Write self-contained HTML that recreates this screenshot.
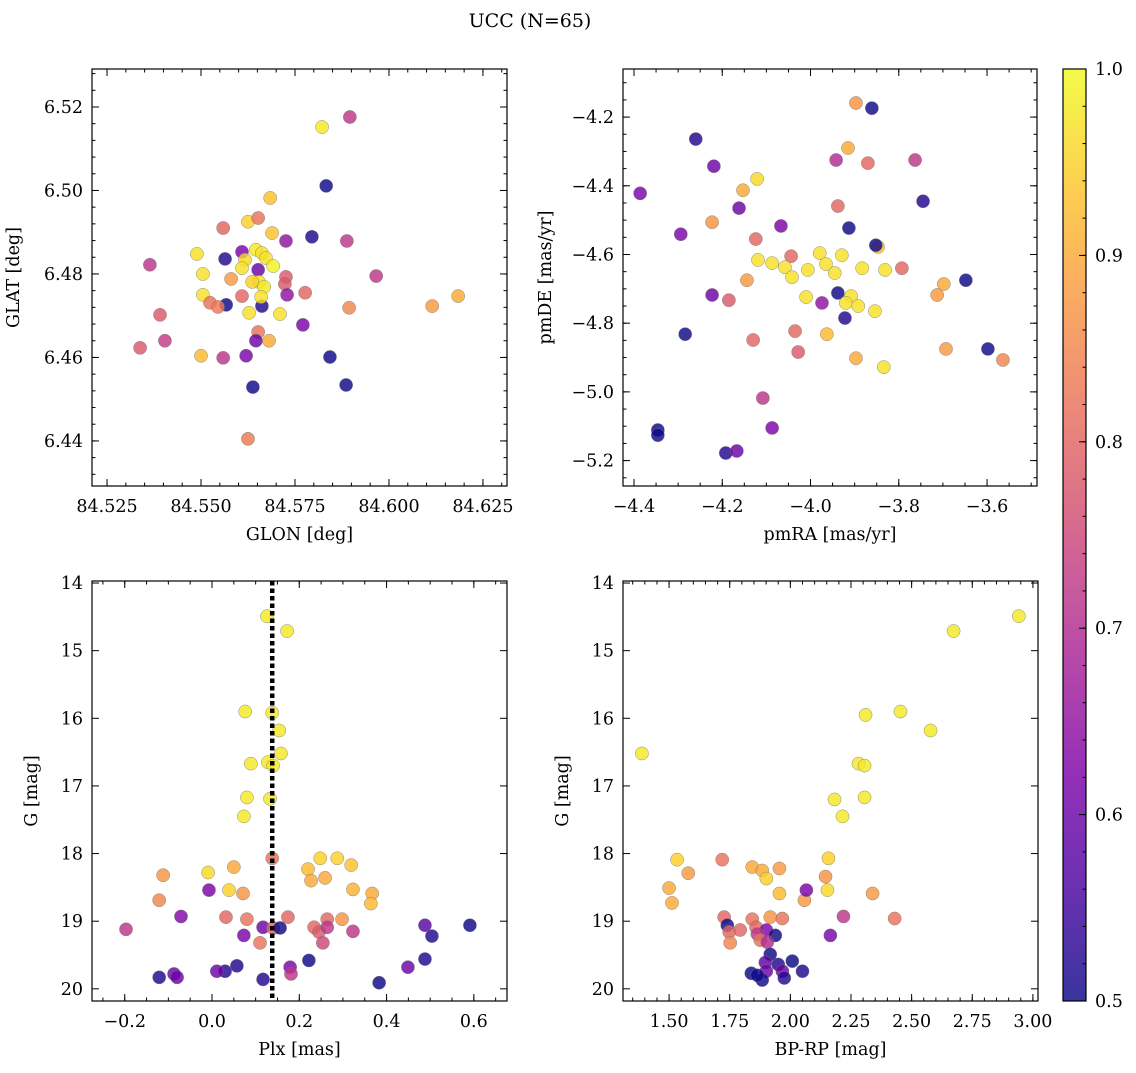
<!DOCTYPE html>
<html><head><meta charset="utf-8"><style>
body{margin:0;background:#fff}
svg text{font-family:"DejaVu Serif","Liberation Serif",serif;fill:#000}
</style></head><body>
<svg id="fig" width="1136" height="1068" xmlns="http://www.w3.org/2000/svg">
<text x="530" y="27" font-size="19" text-anchor="middle">UCC (N=65)</text>
</svg>
<script>
// Panel 1: GLON / GLAT
const p1x=[84.5896,84.5822,84.5833,84.5684,84.5559,84.5625,84.5652,84.5795,84.5726,84.5689,84.5888,84.5489,84.5609,84.5564,84.5646,84.5662,84.5617,84.5673,84.5692,84.5364,84.5505,84.5609,84.5652,84.5580,84.5726,84.5966,84.5654,84.5636,84.5723,84.5668,84.5662,84.5505,84.5729,84.5660,84.5609,84.5567,84.5524,84.5545,84.5777,84.5894,84.6115,84.6184,84.5391,84.5628,84.5710,84.5771,84.5404,84.5652,84.5646,84.5681,84.5338,84.5500,84.5559,84.5620,84.5843,84.5638,84.5886,84.5625];
const p1y=[6.5176,6.5152,6.5011,6.4982,6.4910,6.4925,6.4934,6.4889,6.4879,6.4898,6.4879,6.4848,6.4853,6.4836,6.4858,6.4850,6.4834,6.4838,6.4819,6.4822,6.4800,6.4814,6.4810,6.4788,6.4793,6.4795,6.4781,6.4781,6.4776,6.4769,6.4723,6.4750,6.4750,6.4745,6.4747,6.4726,6.4731,6.4721,6.4755,6.4719,6.4723,6.4747,6.4702,6.4707,6.4704,6.4678,6.4640,6.4661,6.4640,6.4640,6.4623,6.4604,6.4599,6.4604,6.4601,6.4529,6.4534,6.4405];
const p1c=[0.72,0.98,0.5,0.93,0.8,0.95,0.82,0.52,0.65,0.93,0.72,0.97,0.62,0.52,0.98,0.97,0.96,0.97,0.99,0.72,0.97,0.97,0.6,0.88,0.78,0.72,0.97,0.95,0.78,0.98,0.52,0.97,0.65,0.97,0.8,0.5,0.82,0.83,0.8,0.85,0.88,0.9,0.78,0.97,0.97,0.62,0.73,0.82,0.6,0.9,0.78,0.92,0.72,0.62,0.5,0.5,0.5,0.83];
// Panel 2: pmRA / pmDE
const p2x=[-3.897,-3.861,-4.260,-3.915,-4.219,-4.386,-3.942,-3.870,-3.763,-4.121,-4.153,-3.745,-4.162,-3.938,-4.067,-3.913,-4.223,-4.294,-4.124,-4.044,-3.979,-3.929,-3.847,-3.852,-4.119,-4.087,-4.058,-4.006,-3.965,-3.945,-3.883,-3.831,-3.793,-3.648,-4.144,-4.042,-3.698,-4.223,-4.185,-4.010,-3.974,-3.938,-3.908,-3.920,-3.892,-3.854,-3.713,-3.922,-4.035,-4.130,-4.284,-4.028,-3.963,-3.897,-3.834,-3.693,-3.598,-3.564,-4.108,-4.087,-4.346,-4.346,-4.192,-4.167];
const p2y=[-4.159,-4.174,-4.264,-4.290,-4.343,-4.422,-4.325,-4.334,-4.325,-4.380,-4.413,-4.445,-4.465,-4.459,-4.517,-4.523,-4.506,-4.541,-4.555,-4.605,-4.596,-4.602,-4.578,-4.573,-4.616,-4.625,-4.637,-4.645,-4.628,-4.654,-4.640,-4.645,-4.640,-4.675,-4.675,-4.666,-4.686,-4.718,-4.733,-4.724,-4.741,-4.712,-4.721,-4.741,-4.750,-4.765,-4.718,-4.785,-4.823,-4.849,-4.832,-4.884,-4.832,-4.902,-4.928,-4.875,-4.875,-4.907,-5.018,-5.105,-5.111,-5.126,-5.178,-5.172];
const p2c=[0.87,0.5,0.52,0.9,0.6,0.62,0.7,0.8,0.72,0.96,0.9,0.52,0.6,0.8,0.62,0.5,0.87,0.62,0.8,0.8,0.97,0.97,0.93,0.5,0.97,0.97,0.97,0.97,0.97,0.97,0.97,0.97,0.8,0.5,0.88,0.97,0.9,0.6,0.78,0.97,0.65,0.5,0.97,0.97,0.97,0.97,0.88,0.52,0.8,0.8,0.5,0.78,0.92,0.9,0.97,0.88,0.5,0.85,0.72,0.62,0.5,0.5,0.52,0.6];
// Panel 3: Plx / G
const p3x=[0.126,0.172,0.076,0.138,0.154,0.158,0.089,0.128,0.140,0.080,0.133,0.073,0.138,0.248,0.287,0.319,0.050,-0.009,0.220,-0.112,0.227,0.259,0.323,0.039,0.071,0.367,-0.007,-0.121,0.364,-0.071,0.032,0.080,0.174,0.264,0.298,0.591,0.488,0.117,0.140,0.156,0.234,0.245,0.264,0.323,-0.197,0.073,0.504,0.110,0.254,0.222,0.488,0.449,0.179,0.181,0.057,0.030,0.011,-0.087,-0.080,-0.121,0.117,0.383];
const p3y=[14.49,14.71,15.90,15.92,16.18,16.52,16.67,16.65,16.70,17.17,17.19,17.45,18.07,18.07,18.07,18.17,18.20,18.28,18.23,18.32,18.40,18.36,18.53,18.54,18.59,18.59,18.54,18.69,18.74,18.93,18.94,18.97,18.94,18.97,18.97,19.06,19.06,19.09,19.10,19.10,19.09,19.16,19.09,19.15,19.12,19.21,19.22,19.32,19.32,19.58,19.56,19.68,19.68,19.78,19.66,19.74,19.74,19.78,19.83,19.83,19.86,19.91];
const p3c=[0.98,0.98,0.98,0.98,0.98,0.98,0.98,0.98,0.98,0.98,0.98,0.98,0.82,0.95,0.95,0.93,0.9,0.96,0.92,0.87,0.9,0.9,0.91,0.95,0.87,0.9,0.62,0.85,0.92,0.63,0.8,0.82,0.8,0.8,0.87,0.5,0.58,0.6,0.8,0.5,0.8,0.78,0.72,0.72,0.72,0.62,0.52,0.82,0.75,0.5,0.52,0.6,0.62,0.72,0.52,0.52,0.6,0.6,0.6,0.52,0.52,0.5];
const vlinePlx=0.138;
// Panel 4: BP-RP / G
const p4x=[2.942,2.673,2.454,2.310,2.578,1.388,2.281,2.306,2.182,2.306,2.215,1.533,1.719,2.157,1.843,1.955,1.884,1.901,1.579,2.145,1.500,2.153,2.339,1.955,1.512,2.058,2.066,1.727,1.843,1.917,1.967,2.219,2.430,1.740,1.793,1.859,1.901,1.748,1.938,1.864,1.876,1.905,1.752,2.165,1.917,1.897,1.950,2.008,2.050,1.967,1.901,1.839,1.975,1.884,1.864];
const p4y=[14.49,14.71,15.90,15.95,16.18,16.52,16.67,16.70,17.20,17.17,17.45,18.09,18.09,18.07,18.20,18.22,18.25,18.37,18.29,18.34,18.51,18.54,18.59,18.59,18.73,18.69,18.54,18.94,18.97,18.94,18.96,18.93,18.96,19.06,19.13,19.09,19.13,19.16,19.21,19.19,19.28,19.31,19.32,19.21,19.49,19.61,19.64,19.59,19.74,19.74,19.74,19.77,19.84,19.87,19.80];
const p4c=[0.98,0.98,0.98,0.98,0.98,0.98,0.98,0.98,0.98,0.98,0.98,0.95,0.82,0.95,0.9,0.88,0.9,0.95,0.88,0.87,0.9,0.96,0.88,0.92,0.9,0.88,0.62,0.8,0.82,0.87,0.82,0.72,0.82,0.5,0.8,0.8,0.62,0.8,0.5,0.72,0.82,0.7,0.85,0.62,0.5,0.58,0.52,0.5,0.52,0.6,0.6,0.5,0.52,0.5,0.5];
const cbTicks=[0.5,0.6,0.7,0.8,0.9,1.0];

const NS="http://www.w3.org/2000/svg";
const svg=document.getElementById('fig');
const FS=17.5;
function mk(tag,attrs,parent){const e=document.createElementNS(NS,tag);for(const k in attrs)e.setAttribute(k,attrs[k]);(parent||svg).appendChild(e);return e;}
const stops=[[0,[13,8,135]],[0.125,[76,2,161]],[0.25,[126,3,168]],[0.375,[169,35,149]],[0.5,[204,71,120]],[0.625,[230,108,92]],[0.75,[248,149,64]],[0.875,[253,197,39]],[1,[240,249,33]]];
function plasma(t){t=Math.max(0,Math.min(1,t));for(let i=1;i<stops.length;i++){if(t<=stops[i][0]){const a=stops[i-1],b=stops[i];const f=(t-a[0])/(b[0]-a[0]);const c=a[1].map((v,j)=>Math.round(v+(b[1][j]-v)*f));return `rgb(${c[0]},${c[1]},${c[2]})`;}}return 'rgb(240,249,33)';}
function cnorm(v){return (v-0.5)/0.5;}
function fmt(v,d){let s=v.toFixed(d);if(v<0)s='\u2212'+s.slice(1);return s;}

function panel(o){
  const g=mk('g',{});
  
  
  const sx=v=>o.L+(v-o.x0)/(o.x1-o.x0)*(o.R-o.L);
  const sy=v=>o.B-(v-o.y0)/(o.y1-o.y0)*(o.B-o.T);
  for(let i=0;i<o.xs.length;i++){
    const c=mk('circle',{cx:sx(o.xs[i]),cy:sy(o.ys[i]),r:6.6,fill:plasma(cnorm(o.cs[i])),'fill-opacity':0.82,stroke:'#777','stroke-width':0.5,'stroke-opacity':0.8},g);
    
    
  }
  if(o.vline!==undefined){
    const l=mk('line',{x1:sx(o.vline),x2:sx(o.vline),y1:o.T,y2:o.B,stroke:'#000','stroke-width':4.5,'stroke-dasharray':'4.5 3'},g);
    
    
  }
  const fr=mk('rect',{x:o.L,y:o.T,width:o.R-o.L,height:o.B-o.T,fill:'none',stroke:'#000','stroke-width':1.2},g);
  
  
  const tk=(x1,y1,x2,y2)=>mk('line',{x1,y1,x2,y2,stroke:'#000','stroke-width':1},g);
  const eps=1e-9;
  for(let v=Math.ceil(o.x0/o.xm-eps)*o.xm;v<=o.x1+eps;v+=o.xm){const X=sx(v);tk(X,o.B,X,o.B-3.5);tk(X,o.T,X,o.T+3.5);}
  for(let v=Math.ceil(o.y0/o.ym-eps)*o.ym;v<=o.y1+eps;v+=o.ym){const Y=sy(v);tk(o.L,Y,o.L+3.5,Y);tk(o.R,Y,o.R-3.5,Y);}
  o.xt.forEach(v=>{const X=sx(v);tk(X,o.B,X,o.B-7);tk(X,o.T,X,o.T+7);
    const t=mk('text',{x:X,y:o.B+26,'font-size':FS,'text-anchor':'middle'},g);t.textContent=fmt(v,o.xd);
    });
  o.yt.forEach(v=>{const Y=sy(v);tk(o.L,Y,o.L+7,Y);tk(o.R,Y,o.R-7,Y);
    const t=mk('text',{x:o.L-9,y:Y+6,'font-size':FS,'text-anchor':'end'},g);t.textContent=fmt(v,o.yd);
    });
  const xl=mk('text',{x:(o.L+o.R)/2,y:o.B+54,'font-size':FS,'text-anchor':'middle'},g);xl.textContent=o.xlab;
  
  const yx=o.L-o.ylo, yy=(o.T+o.B)/2;
  const yl=mk('text',{x:yx,y:yy,'font-size':FS,'text-anchor':'middle',transform:`rotate(-90 ${yx} ${yy})`},g);yl.textContent=o.ylab;
  
}
panel({name:'glon-glat-panel',L:92,R:507,T:69,B:486,x0:84.521,x1:84.6314,y0:6.4292,y1:6.5291,xs:p1x,ys:p1y,cs:p1c,xt:[84.525,84.55,84.575,84.6,84.625],yt:[6.44,6.46,6.48,6.50,6.52],xd:3,yd:2,xm:0.005,ym:0.004,xlab:'GLON [deg]',ylab:'GLAT [deg]',ylo:73});
panel({name:'proper-motion-panel',L:623,R:1037,T:69,B:486,x0:-4.4249,x1:-3.4868,y0:-5.274,y1:-4.060,xs:p2x,ys:p2y,cs:p2c,xt:[-4.4,-4.2,-4.0,-3.8,-3.6],yt:[-5.2,-5.0,-4.8,-4.6,-4.4,-4.2],xd:1,yd:1,xm:0.05,ym:0.05,xlab:'pmRA [mas/yr]',ylab:'pmDE [mas/yr]',ylo:72});
panel({name:'plx-g-panel',L:92,R:507,T:581,B:1001,x0:-0.275,x1:0.676,y0:20.18,y1:13.97,xs:p3x,ys:p3y,cs:p3c,xt:[-0.2,0,0.2,0.4,0.6],yt:[14,15,16,17,18,19,20],xd:1,yd:0,xm:0.05,ym:0.2,xlab:'Plx [mas]',ylab:'G [mag]',ylo:55,vline:vlinePlx});
panel({name:'cmd-panel',L:623,R:1038,T:581,B:1001,x0:1.310,x1:3.021,y0:20.18,y1:13.97,xs:p4x,ys:p4y,cs:p4c,xt:[1.5,1.75,2.0,2.25,2.5,2.75,3.0],yt:[14,15,16,17,18,19,20],xd:2,yd:0,xm:0.05,ym:0.2,xlab:'BP-RP [mag]',ylab:'G [mag]',ylo:55});

(function(){
  const L=1063,R=1086,T=69,B=1001;
  const g=mk('g',{});
  
  
  const defs=mk('defs',{},g);
  const lg=mk('linearGradient',{id:'cbg',x1:0,y1:1,x2:0,y2:0},defs);
  stops.forEach(s=>mk('stop',{offset:s[0],'stop-color':plasma(s[0]),'stop-opacity':0.82},lg));
  mk('rect',{x:L,y:T,width:R-L,height:B-T,fill:'url(#cbg)',stroke:'#000','stroke-width':1.2},g);
  const sy=v=>B-(v-0.5)/0.5*(B-T);
  for(let v=0.5;v<=1.0001;v+=0.02){mk('line',{x1:R,x2:R-3.5,y1:sy(v),y2:sy(v),stroke:'#000','stroke-width':1},g);}
  cbTicks.forEach(v=>{mk('line',{x1:R,x2:R-7,y1:sy(v),y2:sy(v),stroke:'#000','stroke-width':1},g);
    const t=mk('text',{x:R+9,y:sy(v)+6,'font-size':FS},g);t.textContent=v.toFixed(1);
    });
})();
</script>
</body></html>
